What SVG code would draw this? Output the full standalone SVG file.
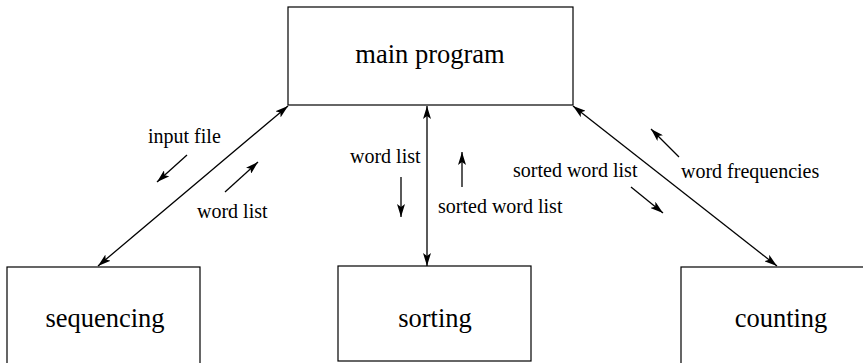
<svg xmlns="http://www.w3.org/2000/svg" width="863" height="363" viewBox="0 0 863 363">
<style>
.box{fill:#fff;stroke:#000;stroke-width:1.2}
.node{font-family:"Liberation Serif","Times New Roman",serif;font-size:26.5px;fill:#000;text-anchor:middle}
.lbl{font-family:"Liberation Serif","Times New Roman",serif;font-size:20px;fill:#000}
.ln{stroke:#000;stroke-width:1.3;fill:none}
</style>
<defs>
<marker id="ah" markerUnits="userSpaceOnUse" markerWidth="14" markerHeight="8" refX="13" refY="4" orient="auto-start-reverse">
<path d="M0,0 L13,4 L0,8 L3,4 z" fill="#000"/>
</marker>
</defs>
<rect width="863" height="363" fill="#fff"/>
<g id="main-program"><rect class="box" x="288" y="7" width="285" height="98"/><text class="node" x="430" y="63">main program</text></g>
<g id="sequencing"><rect class="box" x="7" y="267" width="193" height="110"/><text class="node" x="105" y="327">sequencing</text></g>
<g id="sorting"><rect class="box" x="338" y="266" width="193" height="95"/><text class="node" x="435" y="327">sorting</text></g>
<g id="counting"><rect class="box" x="681" y="267" width="200" height="110"/><text class="node" x="781" y="327">counting</text></g>
<g id="connectors">
<line class="ln" x1="288" y1="106" x2="98" y2="266" marker-start="url(#ah)" marker-end="url(#ah)"/>
<line class="ln" x1="427" y1="106" x2="427" y2="266" marker-start="url(#ah)" marker-end="url(#ah)"/>
<line class="ln" x1="573" y1="106" x2="777" y2="266" marker-start="url(#ah)" marker-end="url(#ah)"/>
<line class="ln" x1="187" y1="155" x2="157" y2="182" marker-end="url(#ah)"/>
<line class="ln" x1="225" y1="192" x2="258" y2="162" marker-end="url(#ah)"/>
<line class="ln" x1="401" y1="177" x2="401" y2="217" marker-end="url(#ah)"/>
<line class="ln" x1="462" y1="187" x2="462" y2="152" marker-end="url(#ah)"/>
<line class="ln" x1="679" y1="157" x2="651" y2="129" marker-end="url(#ah)"/>
<line class="ln" x1="631" y1="187" x2="663" y2="213" marker-end="url(#ah)"/>
</g>
<g id="labels">
<text class="lbl" x="148" y="143">input file</text>
<text class="lbl" x="197" y="218">word list</text>
<text class="lbl" x="350" y="163">word list</text>
<text class="lbl" x="438" y="213">sorted word list</text>
<text class="lbl" x="513" y="177">sorted word list</text>
<text class="lbl" x="681" y="178">word frequencies</text>
</g>
</svg>
